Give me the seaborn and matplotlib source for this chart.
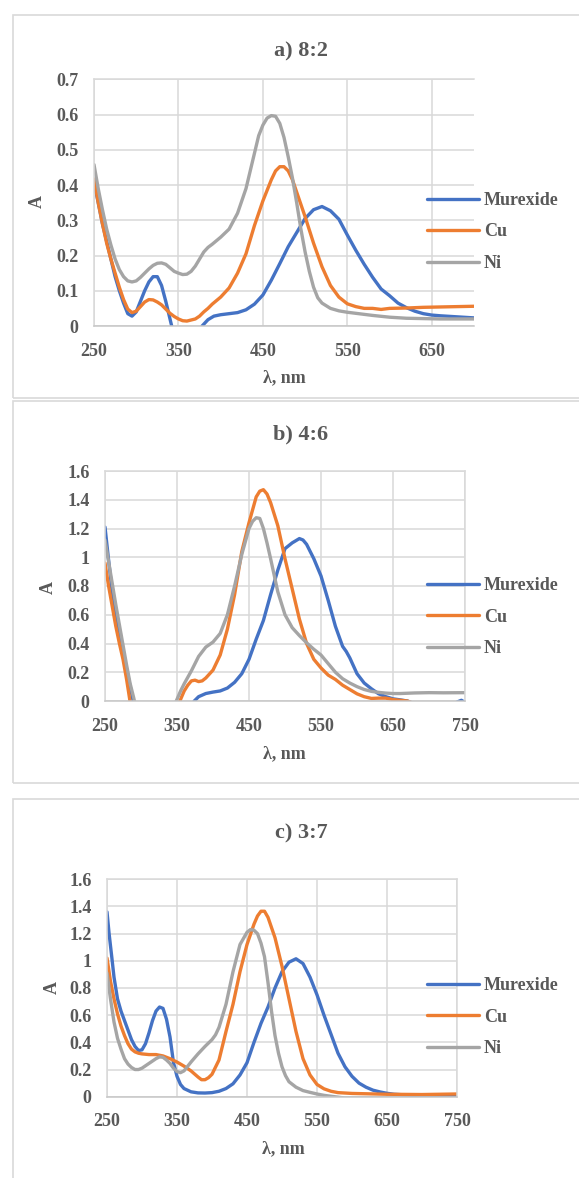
import matplotlib
matplotlib.use("Agg")
import matplotlib.pyplot as plt
from matplotlib.patches import Rectangle
from matplotlib.ticker import FuncFormatter
import numpy as np
import pandas as pd
import seaborn as sns

# ---- data (wavelength nm, absorbance) ----
series_names = ["Murexide", "Cu", "Ni"]
series_colors = ["#4472C4", "#ED7D31", "#A5A5A5"]

# a) 8:2
a_mur_x = [250, 255, 260, 265, 270, 275, 280, 285, 290, 295, 300, 305, 310, 315, 320, 325, 330, 335, 340,
           345, 350, 360, 370, 378, 385, 392, 400, 410, 420, 430, 440, 450, 460, 470, 480, 490, 500, 510,
           520, 530, 540, 550, 560, 570, 580, 590, 600, 610, 620, 630, 640, 650, 660, 680, 700]
a_mur_y = [0.41, 0.35, 0.29, 0.24, 0.19, 0.14, 0.10, 0.065, 0.035, 0.028, 0.04, 0.07, 0.10, 0.125, 0.14, 0.14,
           0.115, 0.07, 0.02, -0.03, -0.08, -0.10, -0.06, 0.0, 0.018, 0.028, 0.032, 0.035, 0.038, 0.046, 0.062,
           0.088, 0.13, 0.177, 0.225, 0.265, 0.305, 0.33, 0.339, 0.327, 0.303, 0.258, 0.215, 0.175, 0.138,
           0.105, 0.086, 0.065, 0.052, 0.042, 0.035, 0.031, 0.029, 0.026, 0.023]
a_cu_x = [250, 255, 260, 265, 270, 275, 280, 285, 290, 295, 300, 305, 310, 315, 320, 325, 330, 335, 340, 345,
          350, 355, 360, 365, 370, 375, 380, 385, 390, 400, 410, 420, 430, 440, 450, 460, 465, 470, 475, 480,
          485, 490, 500, 510, 520, 530, 540, 550, 560, 570, 580, 590, 600, 620, 640, 660, 680, 700]
a_cu_y = [0.417, 0.35, 0.29, 0.235, 0.19, 0.15, 0.11, 0.075, 0.048, 0.038, 0.042, 0.055, 0.068, 0.075, 0.074,
          0.068, 0.06, 0.048, 0.036, 0.027, 0.02, 0.015, 0.014, 0.017, 0.02, 0.028, 0.04, 0.05, 0.062, 0.082,
          0.108, 0.15, 0.205, 0.285, 0.355, 0.415, 0.44, 0.452, 0.452, 0.44, 0.415, 0.38, 0.31, 0.235, 0.168,
          0.115, 0.082, 0.063, 0.055, 0.05, 0.05, 0.047, 0.05, 0.051, 0.053, 0.054, 0.055, 0.056]
a_ni_x = [250, 255, 260, 265, 270, 275, 280, 285, 290, 295, 300, 305, 310, 315, 320, 325, 330, 335, 340, 345,
          350, 355, 360, 365, 370, 375, 380, 385, 390, 400, 410, 420, 430, 440, 445, 450, 455, 460, 465, 470,
          475, 480, 485, 490, 495, 500, 505, 510, 515, 520, 530, 540, 550, 560, 580, 600, 620, 640, 660, 700]
a_ni_y = [0.458, 0.39, 0.33, 0.275, 0.23, 0.19, 0.16, 0.14, 0.128, 0.125, 0.128, 0.138, 0.15, 0.162, 0.172,
          0.178, 0.179, 0.175, 0.165, 0.155, 0.15, 0.146, 0.147, 0.155, 0.17, 0.19, 0.21, 0.223, 0.232, 0.252,
          0.275, 0.32, 0.39, 0.49, 0.54, 0.57, 0.59, 0.597, 0.595, 0.575, 0.535, 0.48, 0.42, 0.35, 0.275, 0.21,
          0.155, 0.11, 0.08, 0.065, 0.05, 0.043, 0.039, 0.036, 0.03, 0.025, 0.022, 0.021, 0.02, 0.02]

# b) 4:6
b_mur_x = [250, 255, 260, 265, 270, 275, 280, 285, 290, 295, 300, 340, 360, 370, 374, 380, 390, 400, 410, 420,
           430, 440, 445, 450, 460, 470, 480, 490, 500, 510, 520, 525, 530, 540, 550, 560, 570, 580, 585, 590,
           600, 610, 620, 630, 640, 650, 660, 670, 680, 700, 730, 740, 745, 750]
b_mur_y = [1.21, 0.98, 0.76, 0.60, 0.46, 0.34, 0.22, 0.10, -0.02, -0.15, -0.30, -0.30, -0.15, -0.03, 0.0, 0.03,
           0.052, 0.062, 0.07, 0.09, 0.13, 0.19, 0.24, 0.29, 0.43, 0.56, 0.74, 0.91, 1.06, 1.10, 1.13, 1.12,
           1.09, 0.99, 0.87, 0.70, 0.52, 0.38, 0.345, 0.30, 0.19, 0.125, 0.085, 0.05, 0.03, 0.015, 0.008, 0.0,
           -0.02, -0.04, -0.03, -0.005, 0.005, -0.01]
b_cu_x = [250, 255, 260, 265, 270, 275, 280, 285, 290, 300, 340, 350, 354, 360, 365, 370, 375, 380, 385, 390,
          400, 410, 420, 430, 440, 450, 460, 465, 470, 475, 480, 490, 500, 510, 520, 530, 540, 550, 560, 570,
          580, 590, 600, 610, 620, 630, 640, 650, 660, 670, 680, 700, 750]
b_cu_y = [0.96, 0.80, 0.66, 0.52, 0.40, 0.29, 0.15, -0.01, -0.15, -0.30, -0.30, -0.06, 0.0, 0.07, 0.11, 0.14,
          0.145, 0.135, 0.14, 0.16, 0.215, 0.32, 0.50, 0.74, 1.04, 1.24, 1.42, 1.46, 1.47, 1.44, 1.38, 1.22,
          0.99, 0.78, 0.57, 0.40, 0.29, 0.23, 0.18, 0.15, 0.11, 0.08, 0.05, 0.03, 0.018, 0.02, 0.02, 0.01,
          0.005, 0.0, -0.02, -0.05, -0.05]
b_ni_x = [250, 255, 260, 265, 270, 275, 280, 285, 290, 295, 300, 330, 345, 349, 355, 360, 370, 380, 390, 400,
          410, 420, 430, 440, 450, 455, 460, 465, 470, 475, 480, 490, 500, 510, 520, 530, 540, 550, 560, 570,
          580, 590, 600, 610, 620, 630, 640, 650, 660, 680, 700, 720, 750]
b_ni_y = [1.12, 0.97, 0.82, 0.67, 0.53, 0.39, 0.25, 0.12, 0.02, -0.10, -0.30, -0.30, -0.05, 0.0, 0.07, 0.12,
          0.21, 0.31, 0.375, 0.41, 0.47, 0.60, 0.80, 1.02, 1.20, 1.25, 1.275, 1.27, 1.20, 1.10, 0.99, 0.76,
          0.60, 0.51, 0.455, 0.405, 0.36, 0.32, 0.26, 0.20, 0.155, 0.125, 0.10, 0.08, 0.067, 0.06, 0.055,
          0.052, 0.052, 0.056, 0.058, 0.057, 0.058]

# c) 3:7
c_mur_x = [250, 253, 257, 260, 265, 270, 275, 280, 285, 290, 295, 300, 305, 310, 315, 320, 325, 330, 335, 340,
           345, 350, 355, 360, 370, 380, 390, 400, 410, 420, 430, 440, 450, 460, 470, 480, 490, 500, 510, 520,
           530, 540, 550, 560, 570, 580, 590, 600, 610, 620, 630, 640, 650, 660, 680, 700, 715, 730, 750]
c_mur_y = [1.36, 1.20, 1.02, 0.88, 0.72, 0.63, 0.56, 0.49, 0.42, 0.37, 0.34, 0.345, 0.39, 0.47, 0.56, 0.63,
           0.66, 0.65, 0.57, 0.44, 0.25, 0.15, 0.09, 0.06, 0.036, 0.028, 0.027, 0.03, 0.04, 0.06, 0.095, 0.16,
           0.25, 0.40, 0.54, 0.66, 0.80, 0.92, 0.99, 1.015, 0.98, 0.88, 0.75, 0.60, 0.46, 0.32, 0.22, 0.15,
           0.10, 0.07, 0.048, 0.035, 0.025, 0.018, 0.012, 0.006, 0.002, 0.006, 0.01]
c_cu_x = [250, 255, 260, 265, 270, 275, 280, 285, 290, 295, 300, 310, 320, 330, 340, 350, 360, 370, 380, 385,
          390, 395, 400, 410, 420, 430, 440, 450, 460, 465, 470, 475, 480, 490, 500, 510, 520, 530, 540, 550,
          560, 570, 580, 600, 650, 700, 750]
c_cu_y = [1.02, 0.85, 0.72, 0.61, 0.52, 0.45, 0.39, 0.35, 0.33, 0.32, 0.315, 0.31, 0.31, 0.30, 0.28, 0.255,
          0.225, 0.19, 0.145, 0.125, 0.125, 0.14, 0.165, 0.27, 0.48, 0.68, 0.92, 1.12, 1.27, 1.33, 1.365, 1.365,
          1.32, 1.17, 0.96, 0.72, 0.48, 0.28, 0.16, 0.09, 0.058, 0.04, 0.03, 0.024, 0.018, 0.016, 0.02]
c_ni_x = [250, 255, 260, 265, 270, 275, 280, 285, 290, 295, 300, 310, 320, 325, 330, 335, 340, 345, 350, 355,
          360, 370, 380, 390, 400, 405, 410, 420, 430, 440, 450, 455, 460, 465, 470, 475, 480, 485, 490, 495,
          500, 505, 510, 520, 530, 540, 550, 560, 575, 590, 750]
c_ni_y = [0.91, 0.72, 0.55, 0.43, 0.35, 0.28, 0.24, 0.215, 0.20, 0.20, 0.21, 0.245, 0.28, 0.293, 0.29, 0.27,
          0.245, 0.21, 0.185, 0.177, 0.19, 0.255, 0.315, 0.37, 0.42, 0.455, 0.51, 0.68, 0.92, 1.12, 1.21, 1.23,
          1.225, 1.20, 1.13, 1.03, 0.84, 0.63, 0.45, 0.32, 0.22, 0.155, 0.11, 0.07, 0.045, 0.032, 0.02, 0.01,
          0.0, -0.01, -0.01]

panels = [
    ("a) 8:2", [(a_mur_x, a_mur_y), (a_cu_x, a_cu_y), (a_ni_x, a_ni_y)], 700, 0.7, 0.1),
    ("b) 4:6", [(b_mur_x, b_mur_y), (b_cu_x, b_cu_y), (b_ni_x, b_ni_y)], 750, 1.6, 0.2),
    ("c) 3:7", [(c_mur_x, c_mur_y), (c_cu_x, c_cu_y), (c_ni_x, c_ni_y)], 750, 1.6, 0.2),
]

# ---- layout in pixels of the 579x1178 picture ----
W, H = 579, 1178
# plot area: left, right, top, bottom
plot_px = [(94, 474, 79.3, 326), (105, 465, 471, 701), (107, 457, 879.3, 1096.7)]
box_px = [(13, 15, 398), (13, 401, 783), (13, 799, 1200)]  # left, top, bottom
title_px = [(301, 51), (301, 434), (301, 833)]
xlabel_px = [(284, 378), (284, 754), (283, 1149)]
ylabel_px = [(37, 202), (48, 587), (52, 988)]
legend_px = [(427, 232), (427, 617), (427, 1017)]

TXT = "#595959"
GRID = "#D9D9D9"
AXIS = "#C6C6C6"

sns.set_style("white")
plt.rcParams["font.family"] = ["Liberation Serif", "DejaVu Serif"]
plt.rcParams["font.weight"] = "bold"

fig = plt.figure(figsize=(W / 100, H / 100), dpi=100)

for i, (title, curves, xmax, ymax, ystep) in enumerate(panels):
    bl, bt, bb = box_px[i]
    fig.patches.append(Rectangle((bl / W, 1 - bb / H), (W + 20 - bl) / W, (bb - bt) / H,
                                 transform=fig.transFigure, fill=False, edgecolor=GRID, lw=1.2))

    l, r, t, b = plot_px[i]
    ax = fig.add_axes([l / W, 1 - b / H, (r - l) / W, (b - t) / H])
    for (xs, ys), name, col in zip(curves, series_names, series_colors):
        df = pd.DataFrame({"wl": xs, "A": ys})
        sns.lineplot(data=df, x="wl", y="A", ax=ax, color=col, lw=2.4, label=name, sort=False)

    ax.set_xlim(250, xmax)
    ax.set_ylim(0, ymax)
    ax.set_xticks(np.arange(250, xmax + 1, 100))
    ax.set_yticks(np.arange(0, ymax + ystep / 2, ystep))
    ax.yaxis.set_major_formatter(FuncFormatter(lambda v, p: f"{v:g}"))
    ax.grid(True, color=GRID, lw=1.1)
    ax.set_axisbelow(True)
    for s in ["left", "top", "right"]:
        ax.spines[s].set_color(GRID)
        ax.spines[s].set_linewidth(1.1)
    ax.spines["bottom"].set_color(AXIS)
    ax.spines["bottom"].set_linewidth(1.1)
    if xmax == 700:
        ax.spines["right"].set_visible(False)
    ax.tick_params(labelsize=13, colors=TXT)
    ax.tick_params(axis="x", length=4, width=1.1, color=AXIS, direction="out", pad=8)
    ax.tick_params(axis="y", length=0, pad=11)
    for lab in ax.get_xticklabels() + ax.get_yticklabels():
        lab.set_fontweight("bold")
    ax.set_xlabel("")
    ax.set_ylabel("")

    tx, ty = title_px[i]
    fig.text(tx / W, 1 - ty / H, title, ha="center", va="center", fontsize=16, fontweight="bold", color=TXT)
    xx, xy = xlabel_px[i]
    fig.text(xx / W, 1 - xy / H, "λ, nm", ha="center", va="center", fontsize=13, fontweight="bold", color=TXT)
    yx, yy = ylabel_px[i]
    fig.text(yx / W, 1 - yy / H, "A", ha="center", va="center", rotation=90, fontsize=13,
             fontweight="bold", color=TXT)

    lx, ly = legend_px[i]
    handles, labels = ax.get_legend_handles_labels()
    leg = ax.legend(handles, labels, loc="center left", bbox_to_anchor=(lx / W, 1 - ly / H),
                    bbox_transform=fig.transFigure, frameon=False, handlelength=2.9, handletextpad=0.25,
                    labelspacing=0.8, borderpad=0, borderaxespad=0,
                    prop={"size": 13, "weight": "bold"})
    for txt in leg.get_texts():
        txt.set_color(TXT)

fig.savefig("out.png", dpi=100)
